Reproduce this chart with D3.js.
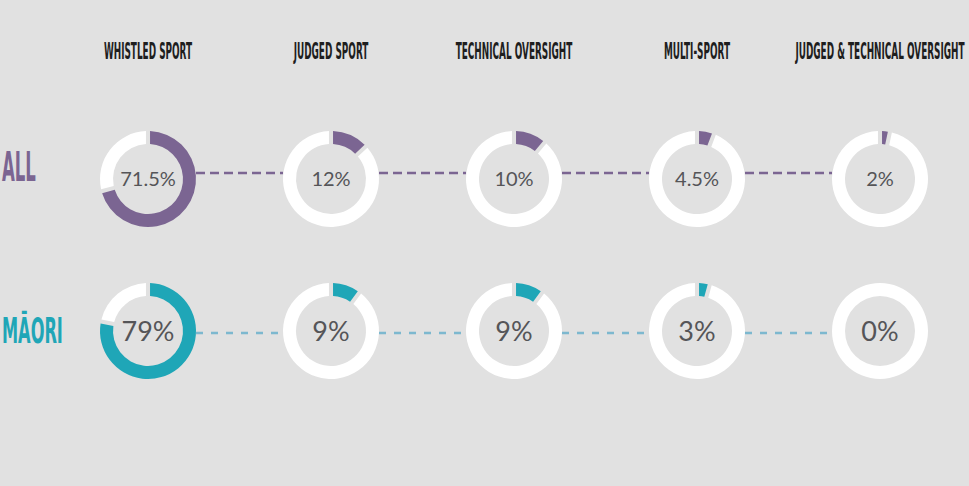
<!DOCTYPE html>
<html>
<head>
<meta charset="utf-8">
<script src="https://cdn.jsdelivr.net/npm/d3@7"></script>
<style>
  html, body { margin: 0; padding: 0; background: #e1e1e1; }
  svg { display: block; }
  .head { font-family: "Liberation Sans Narrow", "DejaVu Sans Condensed", sans-serif; font-weight: bold; fill: #1e1e1e; }
  .rowlabel { font-family: "Liberation Sans Narrow", "DejaVu Sans Condensed", sans-serif; font-weight: bold; }
  .pct { font-family: Lato, "Open Sans", sans-serif; font-weight: 400; fill: #555558; }
</style>
</head>
<body>
<svg id="chart" width="969" height="486"></svg>
<script>
// data
const categories = ['WHISTLED SPORT', 'JUDGED SPORT', 'TECHNICAL OVERSIGHT', 'MULTI-SPORT', 'JUDGED & TECHNICAL OVERSIGHT']
const groups = ['ALL', 'MĀORI']
const allValues = [71.5, 12, 10, 4.5, 2]
const maoriValues = [79, 9, 9, 3, 0]

const GROUP_COLORS = { 'ALL': '#7b6592', 'MĀORI': '#1fa6b7' }
const LINE_COLORS = { 'ALL': '#7b6592', 'MĀORI': '#7db8cf' }

let chart = d3.select('#chart')

let x = d3.scalePoint().domain(categories).range([148, 880])
let y = d3.scalePoint().domain(groups).range([179, 331])

const outerR = 48
const innerR = 35

let arc = d3.arc().innerRadius(innerR).outerRadius(outerR).padRadius(outerR)

// column headers (squashed to look like a condensed display face)
chart.selectAll('text.head')
  .data(categories)
  .enter()
  .append('text')
  .attr('class', 'head')
  .attr('font-size', 23)
  .attr('text-anchor', 'middle')
  .attr('transform', d => `translate(${x(d)}, 59) scale(0.43, 1)`)
  .text(d => d)

// row labels
chart.selectAll('text.rowlabel')
  .data(groups)
  .enter()
  .append('text')
  .attr('class', 'rowlabel')
  .attr('fill', g => GROUP_COLORS[g])
  .attr('font-size', g => g === 'ALL' ? 40 : 36)
  .attr('transform', g => `translate(2, ${g === 'ALL' ? y(g) + 2 : y(g) + 12}) scale(${g === 'ALL' ? 0.46 : 0.5}, 1)`)
  .text(g => g)

let rows = [
  { group: 'ALL', values: allValues, size: 20, lineShift: -6, dash: '9 5' },
  { group: 'MĀORI', values: maoriValues, size: 27, lineShift: 2, dash: '7 8' }
]

rows.forEach(row => {
  let cy = y(row.group)

  // dashed connectors between neighbouring donuts
  for (let i = 0; i < categories.length - 1; i++) {
    chart.append('line')
      .attr('x1', x(categories[i]) + outerR)
      .attr('x2', x(categories[i + 1]) - outerR)
      .attr('y1', cy + row.lineShift)
      .attr('y2', cy + row.lineShift)
      .attr('stroke', LINE_COLORS[row.group])
      .attr('stroke-width', 2.5)
      .attr('stroke-dasharray', row.dash)
  }

  // donuts
  let donut = chart.selectAll(null)
    .data(row.values.map((v, i) => ({ cat: categories[i], value: v })))
    .enter()
    .append('g')
    .attr('transform', d => `translate(${x(d.cat)}, ${cy})`)

  donut.each(function (d) {
    let parts = [
      { key: 'share', value: d.value },
      { key: 'rest', value: 100 - d.value }
    ].filter(p => p.value > 0)

    let pie = d3.pie()
      .value(p => p.value)
      .sort(null)
      .padAngle(parts.length > 1 ? 0.085 : 0)

    d3.select(this).selectAll('path')
      .data(pie(parts))
      .enter()
      .append('path')
      .attr('d', arc)
      .attr('fill', p => p.data.key === 'share' ? GROUP_COLORS[row.group] : '#ffffff')
  })

  donut.append('text')
    .attr('class', 'pct')
    .attr('text-anchor', 'middle')
    .attr('dy', '0.36em')
    .attr('font-size', row.size)
    .text(d => `${d.value}%`)
})
</script>
</body>
</html>
